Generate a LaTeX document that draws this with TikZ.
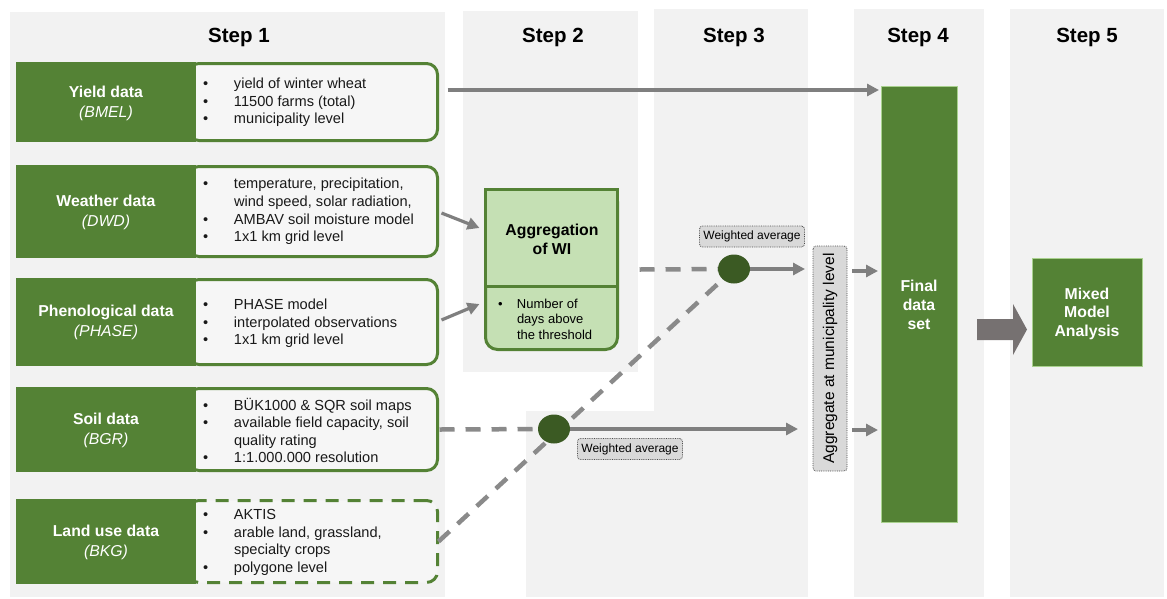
\documentclass[tikz,border=0pt]{standalone}
\usepackage{fontspec}
\setmainfont{Liberation Sans}
\usetikzlibrary{calc,arrows.meta,shapes.geometric}
\definecolor{panel}{HTML}{F2F2F2}
\definecolor{dgreen}{HTML}{548235}
\definecolor{lgreen}{HTML}{C5E0B4}
\definecolor{cgreen}{HTML}{3B5A23}
\definecolor{edgegreen}{HTML}{A9D18E}
\definecolor{arrgray}{HTML}{7F7F7F}
\definecolor{dashgray}{HTML}{8A8A8A}
\definecolor{blockgray}{HTML}{767171}
\definecolor{labgray}{HTML}{D9D9D9}
\definecolor{boxfill}{HTML}{F6F6F6}
\newcommand{\bl}[1]{\makebox[31pt][l]{\textbullet}#1}
\newcommand{\cl}[1]{\hspace*{31pt}#1}
\newcommand{\sbl}[1]{\makebox[19pt][l]{\textbullet}#1}
\newcommand{\scl}[1]{\hspace*{19pt}#1}
\begin{document}
\begin{tikzpicture}[x=1pt,y=-1pt,
  every node/.style={inner sep=0pt, outer sep=0pt},
  titletext/.style={font=\fontsize{20.5}{24}\selectfont\bfseries, text=black},
  srcbox/.style={fill=dgreen, text=white, minimum width=180pt, align=center, font=\fontsize{15.8}{20}\selectfont},
  infobox/.style={draw=dgreen, line width=3pt, fill=boxfill, rounded corners=11pt, minimum width=249.5pt},
  infodash/.style={infobox, dash pattern=on 13pt off 9pt},
  infotext/.style={anchor=west, align=left, font=\fontsize{14.6}{17.6}\selectfont, text=black!90},
  aggbox/.style={draw=dgreen, line width=3pt, fill=lgreen, minimum width=132pt},
  dotnode/.style={ellipse, fill=cgreen, minimum width=32pt, minimum height=29pt},
  wlabel/.style={draw=black!70, densely dotted, line width=0.8pt, fill=labgray, rounded corners=3pt, minimum width=105pt, minimum height=21pt, font=\fontsize{12}{14}\selectfont},
  bigbox/.style={fill=dgreen, draw=edgegreen, line width=1pt, text=white, align=center, font=\fontsize{15.8}{19}\selectfont\bfseries},
  arr/.style={draw=arrgray, line width=3.2pt, -{Triangle[length=12pt,width=12pt]}},
  dashline/.style={draw=dashgray, line width=4.5pt, dash pattern=on 15pt off 11pt}
]
\useasboundingbox (0,0) rectangle (1167,598);
% background panels
\fill[panel] (10,12) rectangle (445,597);
\fill[panel] (463,11) rectangle (638,372);
\fill[panel] (654,9) rectangle (808,597);
\fill[panel] (526,411) rectangle (808,597);
\fill[panel] (854,9) rectangle (984,597);
\fill[panel] (1010,9) rectangle (1164,597);
% titles
\node[titletext] (t1) at (239,37) {Step 1};
\node[titletext] (t2) at (553,37) {Step 2};
\node[titletext] (t3) at (734,37) {Step 3};
\node[titletext] (t4) at (918,37) {Step 4};
\node[titletext] (t5) at (1087,37) {Step 5};
% info boxes
\node[infobox, minimum height=77pt] (yb) at (312.75,102) {};
\node[infobox, minimum height=90pt] (wb) at (312.75,211.5) {};
\node[infobox, minimum height=85pt] (pb) at (312.75,322) {};
\node[infobox, minimum height=82pt] (sb) at (312.75,429.5) {};
\node[infodash, minimum height=82pt] (lb) at (312.75,541.5) {};
% source boxes
\node[srcbox, minimum height=80pt] (ys) at (106,102) {};
\node[srcbox, minimum height=93pt] (ws) at (106,211.5) {};
\node[srcbox, minimum height=88pt] (ps) at (106,322) {};
\node[srcbox, minimum height=85pt] (ss) at (106,429.5) {};
\node[srcbox, minimum height=85pt] (ls) at (106,541.5) {};
\node[srcbox, fill=none] (yl) at ($(ys)+(0,1.5)$) {\textbf{Yield data}\\\textit{(BMEL)}};
\node[srcbox, fill=none] (wl) at ($(ws)+(0,0.5)$) {\textbf{Weather data}\\\textit{(DWD)}};
\node[srcbox, fill=none] (pl) at ($(ps)+(0,0.5)$) {\textbf{Phenological data}\\\textit{(PHASE)}};
\node[srcbox, fill=none] (sl) at ($(ss)+(0,0.5)$) {\textbf{Soil data}\\\textit{(BGR)}};
\node[srcbox, fill=none] (ll) at ($(ls)+(0,0.5)$) {\textbf{Land use data}\\\textit{(BKG)}};
% info texts
\node[infotext] (yt) at (203,102.5) {\bl{yield of winter wheat}\\\bl{11500 farms (total)}\\\bl{municipality level}};
\node[infotext] (wt) at (203,211.5) {\bl{temperature, precipitation,}\\\cl{wind speed, solar radiation,}\\\bl{AMBAV soil moisture model}\\\bl{1x1 km grid level}};
\node[infotext] (pt) at (203,323.5) {\bl{PHASE model}\\\bl{interpolated observations}\\\bl{1x1 km grid level}};
\node[infotext] (st) at (203,430.5) {\bl{BÜK1000 \& SQR soil maps}\\\bl{available field capacity, soil}\\\cl{quality rating}\\\bl{1:1.000.000 resolution}};
\node[infotext] (lt) at (203,542.5) {\bl{AKTIS}\\\bl{arable land, grassland,}\\\cl{specialty crops}\\\bl{polygone level}};
% aggregation box
\node[aggbox, rounded corners=12pt, minimum height=160pt] (aggall) at (551.5,269.5) {};
\node[aggbox, minimum height=96.5pt] (aggtop) at (551.5,237.75) {};
\node[align=center, font=\fontsize{15.8}{19}\selectfont\bfseries] (aggtxt) at (552,239) {Aggregation\\of WI};
\node[anchor=west, align=left, font=\fontsize{13}{15.5}\selectfont] (aggsub) at (498,319) {\sbl{Number of}\\\scl{days above}\\\scl{the threshold}};
% final & mixed
\node[bigbox, minimum width=76pt, minimum height=436pt] (final) at (919,304) {};
\node[align=center, text=white, font=\fontsize{15.8}{19}\selectfont\bfseries] (finaltxt) at (919,305) {Final\\data\\set};
\node[bigbox, minimum width=110pt, minimum height=108pt] (mixed) at (1087,312) {};
\node[align=center, text=white, font=\fontsize{15.8}{18.5}\selectfont\bfseries] (mixedtxt) at (1087,313.5) {Mixed\\Model\\Analysis};
% aggregate label
\node[wlabel, rotate=90, minimum width=225pt, minimum height=34pt, font=\fontsize{15.5}{18}\selectfont] (agg) at (830,358.5) {Aggregate at municipality level};
% dots
\coordinate (c1) at (734,269);
\coordinate (c2) at (554,429);
% dashed lines
\draw[dashline] ($(aggall.east)+(22,0)$) -- (c1);
\draw[dashline] ($(sb.east)+(2,0)$) -- (c2);
\draw[dashline] ($(lb.east)+(1,0)$) -- (c1);
\node[dotnode] (d1) at (c1) {};
\node[dotnode] (d2) at (c2) {};
% weighted average labels
\node[wlabel] (w1) at (752,236.5) {Weighted average};
\node[wlabel] (w2) at (630,449) {Weighted average};
% arrows
\coordinate (yst) at ($(yb.east)+(10,-12)$);
\draw[arr, shorten >=2pt] (yst) -- (yst -| final.west);
\draw[arr] ($(wb.east)+(4,1.5)$) -- ($(aggall.west)+(-6,-41.5)$);
\draw[arr] ($(pb.east)+(4,-2)$) -- ($(aggall.west)+(-6,34.5)$);
\draw[arr, shorten >=8pt] (d1.east) -- (d1.east -| agg.north);
\draw[arr, shorten >=15pt] (d2.east) -- (d2.east -| agg.north);
\coordinate (as) at ($(agg.south)+(5,0)$);
\draw[arr, shorten >=3pt] (as |- 0,271) -- (final.west |- 0,271);
\draw[arr, shorten >=3pt] (as |- 0,430) -- (final.west |- 0,430);
% block arrow
\coordinate (ba) at ($(final.east)+(20,25.5)$);
\fill[blockgray] (ba) ++(0,-10.5) -- ++(36,0) -- ++(0,-15) -- ++(14,25.5) -- ++(-14,25.5) -- ++(0,-15) -- ++(-36,0) -- cycle;
\end{tikzpicture}
\end{document}
